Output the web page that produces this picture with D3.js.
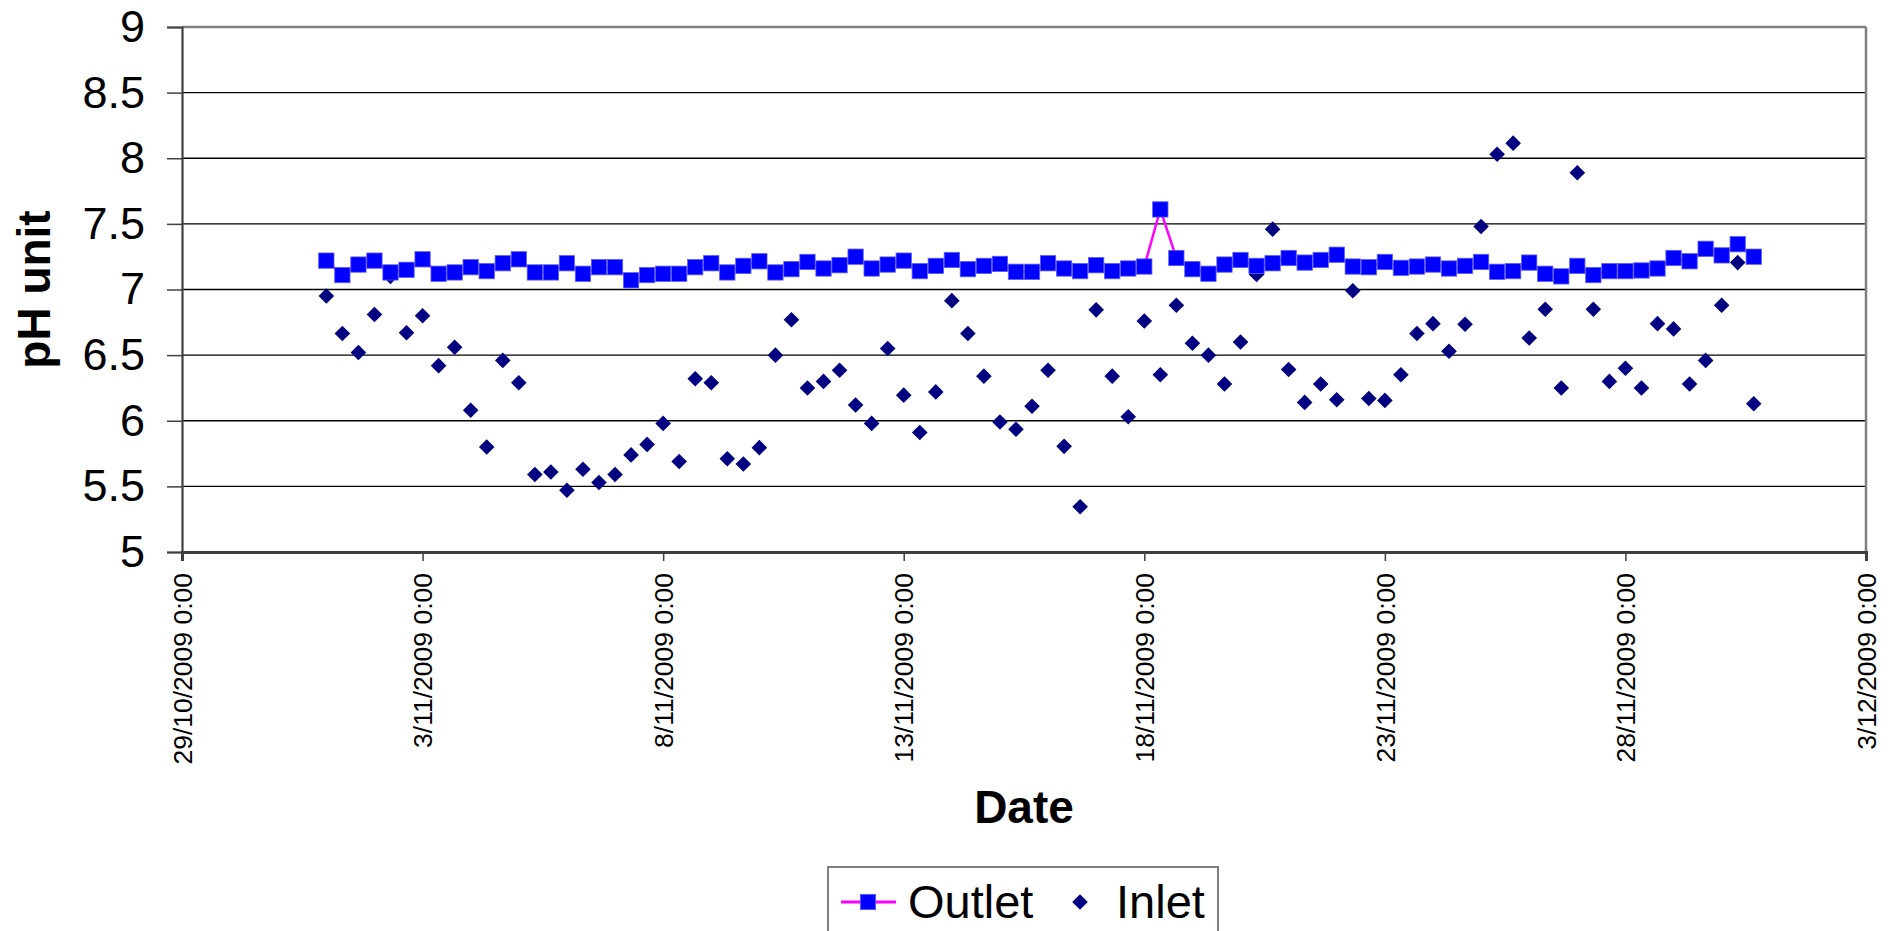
<!DOCTYPE html>
<html>
<head>
<meta charset="utf-8">
<script src="https://cdn.jsdelivr.net/npm/d3@7/dist/d3.min.js"></script>
<style>
  html, body { margin: 0; padding: 0; background: #ffffff; overflow: hidden; }
  svg { display: block; overflow: hidden; font-family: "Liberation Sans", Arial, sans-serif; }
</style>
</head>
<body>
<svg id="chart" width="1899" height="931" viewBox="0 0 1899 931"></svg>
<script>
// ---- data (sampled every 8 hours) ----
const dates = [
  "2009-11-01 00:00","2009-11-01 08:00","2009-11-01 16:00",
  "2009-11-02 00:00","2009-11-02 08:00","2009-11-02 16:00",
  "2009-11-03 00:00","2009-11-03 08:00","2009-11-03 16:00",
  "2009-11-04 00:00","2009-11-04 08:00","2009-11-04 16:00",
  "2009-11-05 00:00","2009-11-05 08:00","2009-11-05 16:00",
  "2009-11-06 00:00","2009-11-06 08:00","2009-11-06 16:00",
  "2009-11-07 00:00","2009-11-07 08:00","2009-11-07 16:00",
  "2009-11-08 00:00","2009-11-08 08:00","2009-11-08 16:00",
  "2009-11-09 00:00","2009-11-09 08:00","2009-11-09 16:00",
  "2009-11-10 00:00","2009-11-10 08:00","2009-11-10 16:00",
  "2009-11-11 00:00","2009-11-11 08:00","2009-11-11 16:00",
  "2009-11-12 00:00","2009-11-12 08:00","2009-11-12 16:00",
  "2009-11-13 00:00","2009-11-13 08:00","2009-11-13 16:00",
  "2009-11-14 00:00","2009-11-14 08:00","2009-11-14 16:00",
  "2009-11-15 00:00","2009-11-15 08:00","2009-11-15 16:00",
  "2009-11-16 00:00","2009-11-16 08:00","2009-11-16 16:00",
  "2009-11-17 00:00","2009-11-17 08:00","2009-11-17 16:00",
  "2009-11-18 00:00","2009-11-18 08:00","2009-11-18 16:00",
  "2009-11-19 00:00","2009-11-19 08:00","2009-11-19 16:00",
  "2009-11-20 00:00","2009-11-20 08:00","2009-11-20 16:00",
  "2009-11-21 00:00","2009-11-21 08:00","2009-11-21 16:00",
  "2009-11-22 00:00","2009-11-22 08:00","2009-11-22 16:00",
  "2009-11-23 00:00","2009-11-23 08:00","2009-11-23 16:00",
  "2009-11-24 00:00","2009-11-24 08:00","2009-11-24 16:00",
  "2009-11-25 00:00","2009-11-25 08:00","2009-11-25 16:00",
  "2009-11-26 00:00","2009-11-26 08:00","2009-11-26 16:00",
  "2009-11-27 00:00","2009-11-27 08:00","2009-11-27 16:00",
  "2009-11-28 00:00","2009-11-28 08:00","2009-11-28 16:00",
  "2009-11-29 00:00","2009-11-29 08:00","2009-11-29 16:00",
  "2009-11-30 00:00","2009-11-30 08:00","2009-11-30 16:00"
];

const outlet = [
  7.22, 7.11, 7.19, 7.22, 7.13, 7.15, 7.23, 7.12, 7.13, 7.17,
  7.14, 7.20, 7.23, 7.13, 7.13, 7.20, 7.12, 7.17, 7.17, 7.07,
  7.11, 7.12, 7.12, 7.17, 7.20, 7.13, 7.18, 7.215, 7.13, 7.155,
  7.21, 7.16, 7.185, 7.25, 7.16, 7.19, 7.22, 7.14, 7.18, 7.225,
  7.155, 7.18, 7.195, 7.135, 7.135, 7.20, 7.16, 7.14, 7.185, 7.14,
  7.16, 7.175, 7.61, 7.24, 7.155, 7.12, 7.19, 7.225, 7.18, 7.20,
  7.24, 7.205, 7.225, 7.265, 7.175, 7.17, 7.21, 7.165, 7.175, 7.19,
  7.16, 7.18, 7.21, 7.135, 7.14, 7.205, 7.12, 7.10, 7.18, 7.11,
  7.14, 7.14, 7.145, 7.16, 7.24, 7.215, 7.31, 7.26, 7.345, 7.25
];

const inlet = [
  6.95, 6.665, 6.52, 6.81, 7.10, 6.67, 6.80, 6.42, 6.56, 6.08,
  5.80, 6.46, 6.29, 5.59, 5.61, 5.47, 5.63, 5.53, 5.59, 5.74,
  5.82, 5.98, 5.69, 6.32, 6.29, 5.71, 5.67, 5.795, 6.50, 6.77,
  6.25, 6.30, 6.385, 6.12, 5.98, 6.55, 6.195, 5.91, 6.22, 6.915,
  6.665, 6.34, 5.99, 5.935, 6.11, 6.385, 5.805, 5.345, 6.845, 6.34,
  6.03, 6.76, 6.35, 6.88, 6.59, 6.50, 6.28, 6.60, 7.115, 7.46,
  6.39, 6.14, 6.28, 6.16, 6.99, 6.17, 6.155, 6.35, 6.665, 6.74,
  6.53, 6.735, 7.48, 8.03, 8.115, 6.63, 6.85, 6.25, 7.89, 6.85,
  6.30, 6.40, 6.25, 6.74, 6.70, 6.28, 6.46, 6.88, 7.205, 6.13
];

const xDomain = ["2009-10-29 00:00", "2009-12-03 00:00"];
const xTickDates = ["2009-10-29 00:00","2009-11-03 00:00","2009-11-08 00:00","2009-11-13 00:00",
                    "2009-11-18 00:00","2009-11-23 00:00","2009-11-28 00:00","2009-12-03 00:00"];
const yTicks = [5, 5.5, 6, 6.5, 7, 7.5, 8, 8.5, 9];
const seriesNames = ["Outlet", "Inlet"];
const xTitle = "Date";
const yTitle = "pH unit";

// ---- drawing ----
const parse = d3.timeParse("%Y-%m-%d %H:%M");
const fmt = d3.timeFormat("%-d/%-m/%Y %-H:%M");
const svg = d3.select("#chart");

svg.append("rect").attr("x", 0).attr("y", 0).attr("width", 1899).attr("height", 931).attr("fill", "#fff");

const L = 182, R = 1866, T = 27, B = 552;
const x = d3.scaleTime().domain(xDomain.map(parse)).range([L, R]);
const y = d3.scaleLinear().domain([5, 9]).range([B, T]);

const n = Math.min(dates.length, outlet.length, inlet.length);
const pts = dates.slice(0, n).map((d, i) => ({ t: parse(d), o: outlet[i], n: inlet[i] }));

// gridlines
svg.append("g").attr("class", "grid").selectAll("line")
  .data(yTicks.filter(v => v > 5 && v < 9)).join("line")
  .attr("x1", L).attr("x2", R).attr("y1", d => y(d)).attr("y2", d => y(d))
  .attr("stroke", "#000").attr("stroke-width", 1.3);

// plot border (top/right)
svg.append("line").attr("x1", L).attr("x2", R).attr("y1", y(9)).attr("y2", y(9))
  .attr("stroke", "#808080").attr("stroke-width", 2.5);
svg.append("line").attr("x1", R).attr("x2", R).attr("y1", y(9)).attr("y2", B)
  .attr("stroke", "#808080").attr("stroke-width", 2.5);

// y axis
const yAxis = d3.axisLeft(y).tickValues(yTicks).tickSize(15).tickPadding(22)
  .tickFormat(d => String(d));
const gy = svg.append("g").attr("transform", `translate(${L},0)`).call(yAxis);
gy.select(".domain").attr("stroke", "#404040").attr("stroke-width", 2.2);
gy.selectAll(".tick line").attr("stroke", "#404040").attr("stroke-width", 1.5);
gy.selectAll(".tick text").attr("font-size", 45).attr("fill", "#000")
  .attr("font-family", "Liberation Sans, Arial, sans-serif");

// x axis
const xAxis = d3.axisBottom(x).tickValues(xTickDates.map(parse)).tickSize(9).tickFormat(fmt);
const gx = svg.append("g").attr("transform", `translate(0,${B})`).call(xAxis);
gx.select(".domain").attr("stroke", "#404040").attr("stroke-width", 3);
gx.selectAll(".tick line").attr("stroke", "#404040").attr("stroke-width", 1.5);
gx.selectAll(".tick text")
  .attr("font-size", 26.5).attr("fill", "#000")
  .attr("font-family", "Liberation Sans, Arial, sans-serif")
  .attr("text-anchor", "end")
  .attr("transform", "rotate(-90)")
  .attr("x", -21).attr("y", 0).attr("dy", "0.35em");

// outlet line
svg.append("path").attr("class", "outlet-line").datum(pts)
  .attr("fill", "none").attr("stroke", "#ff00ff").attr("stroke-width", 2.5)
  .attr("d", d3.line().x(d => x(d.t)).y(d => y(d.o)));

// inlet diamonds
const dia = "M0,-7.8L7.8,0L0,7.8L-7.8,0Z";
svg.append("g").attr("class", "inlet").selectAll("path").data(pts).join("path")
  .attr("d", dia).attr("fill", "#000080")
  .attr("transform", d => `translate(${x(d.t)},${y(d.n)})`);

// outlet squares
const S = 15.3;
svg.append("g").attr("class", "outlet").selectAll("rect").data(pts).join("rect")
  .attr("x", d => x(d.t) - S / 2).attr("y", d => y(d.o) - S / 2)
  .attr("width", S).attr("height", S)
  .attr("fill", "#0000ff").attr("stroke", "#5a5aff").attr("stroke-width", 0.8);

// axis titles
svg.append("text").attr("x", (L + R) / 2).attr("y", 823)
  .attr("text-anchor", "middle").attr("font-size", 46).attr("font-weight", "bold")
  .text(xTitle);
svg.append("text")
  .attr("transform", `translate(50,${(T + B) / 2}) rotate(-90)`)
  .attr("text-anchor", "middle").attr("font-size", 46).attr("font-weight", "bold")
  .text(yTitle);

// legend
const lg = svg.append("g").attr("class", "legend");
lg.append("rect").attr("x", 828).attr("y", 867).attr("width", 390).attr("height", 100)
  .attr("fill", "#fff").attr("stroke", "#808080").attr("stroke-width", 2);
lg.append("line").attr("x1", 841).attr("x2", 896).attr("y1", 902).attr("y2", 902)
  .attr("stroke", "#ff00ff").attr("stroke-width", 3);
lg.append("rect").attr("x", 868 - S / 2).attr("y", 902 - S / 2).attr("width", S).attr("height", S)
  .attr("fill", "#0000ff").attr("stroke", "#5a5aff").attr("stroke-width", 0.8);
lg.append("text").attr("x", 908).attr("y", 918).attr("font-size", 47).text(seriesNames[0]);
lg.append("path").attr("d", dia).attr("fill", "#000080").attr("transform", "translate(1080,902)");
lg.append("text").attr("x", 1116).attr("y", 918).attr("font-size", 47).text(seriesNames[1]);
</script>
</body>
</html>
